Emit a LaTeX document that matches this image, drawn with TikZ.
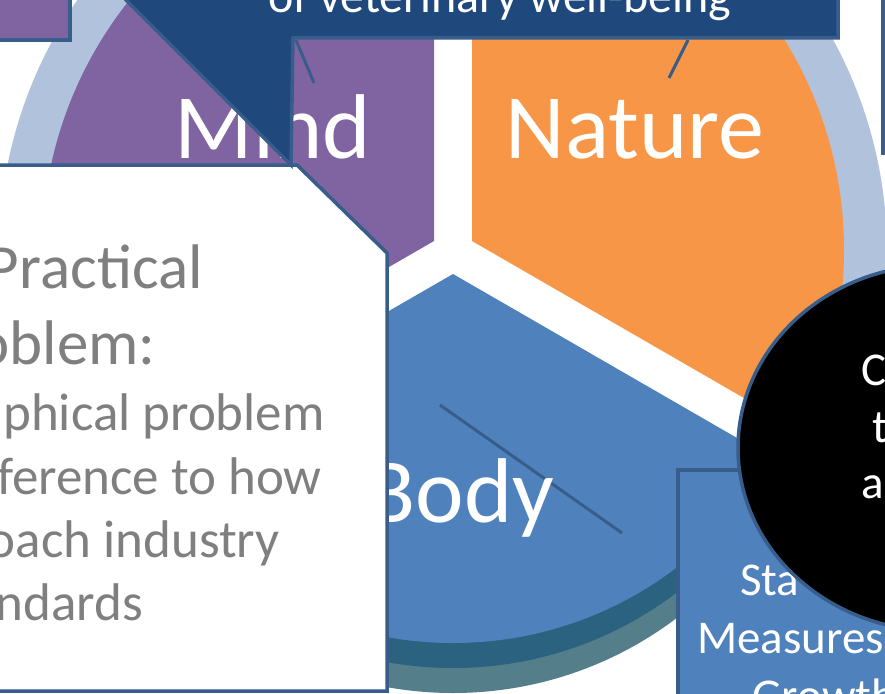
\documentclass[tikz,border=0pt]{standalone}
\usepackage{fontspec}
\setmainfont{Carlito}

\definecolor{mindpurple}{HTML}{8064A2}
\definecolor{natureorange}{HTML}{F79646}
\definecolor{bodyblue}{HTML}{4F81BD}
\definecolor{calloutblue}{HTML}{1F497D}
\definecolor{edgeblue}{HTML}{385D8A}
\definecolor{ringblue}{HTML}{B1C2DD}
\definecolor{sidedark}{HTML}{2B6280}
\definecolor{sidelight}{HTML}{547E89}
\definecolor{textgray}{HTML}{7F7F7F}

\tikzset{
	boxedge/.style={draw=edgeblue,line width=3.5pt,line join=miter},
	leader/.style={edgeblue,line width=3pt},
	biglabel/.style={text=white,inner sep=0pt,anchor=base,font=\fontsize{92}{92}\selectfont},
	titletext/.style={text=textgray,inner sep=0pt,anchor=base east,font=\fontsize{63}{63}\selectfont},
	smalltext/.style={text=textgray,inner sep=0pt,anchor=base east,font=\fontsize{53}{53}\selectfont},
	boxtext/.style={text=white,inner sep=0pt,anchor=base west,font=\fontsize{47}{47}\selectfont}
}

\begin{document}
\begin{tikzpicture}[x=1pt,y=-1pt]
	\useasboundingbox (0,0) rectangle (885,693);
	\clip (0,0) rectangle (885,693);
	\fill[white] (0,0) rectangle (885,693);

	\begin{scope}
		\clip (0,0) rectangle (885,470);
		\fill[ringblue,even odd rule] (443,252) circle (444) (443,252) circle (398);
	\end{scope}

	\begin{scope}[shift={(0,48)}]
		\clip (453,274) circle (371);
		\fill[sidelight] (453,274) -- +(30:700) -- +(90:700) -- +(150:700) -- cycle;
	\end{scope}
	\begin{scope}[shift={(0,25)}]
		\clip (453,274) circle (369);
		\fill[sidedark] (453,274) -- +(30:700) -- +(90:700) -- +(150:700) -- cycle;
	\end{scope}
	\begin{scope}
		\clip (453,274) circle (369);
		\fill[bodyblue] (453,274) -- +(30:700) -- +(90:700) -- +(150:700) -- cycle;
	\end{scope}
	\begin{scope}
		\clip (443,250) circle (401);
		\fill[mindpurple] (434,241) -- +(150:700) -- +(210:700) -- +(270:700) -- cycle;
		\fill[natureorange] (472,241) -- +(270:700) -- +(330:700) -- +(390:700) -- cycle;
	\end{scope}

	\node[biglabel] (mindlabel) at (273,158) {Mind};
	\node[biglabel] (naturelabel) at (635,158) {Nature};
	\coordinate (bodylinetop) at (440,405);
	\coordinate (bodylineend) at (622,533);
	\draw[leader] (bodylinetop) -- (bodylineend);
	\node[biglabel] (bodylabel) at (460,522) {Body};

	\draw[boxedge,fill=white] (-10,165) -- (297,165) -- (387,253) -- (387,691) -- (-10,691) -- cycle;
	\node[titletext] (practical) at (203,288) {Practical};
	\node[titletext] (problem) at (156,364) {oblem:};
	\node[smalltext] (philo) at (325,430) {phical problem};
	\node[smalltext] (reference) at (322,494) {ference to how};
	\node[smalltext] (approach) at (280,557) {oach industry};
	\node[smalltext] (standards) at (143,620) {ndards};

	\draw[boxedge,fill=calloutblue] (838,-12) -- (838,38) -- (293,38) -- (291,165) -- (114,-12) -- cycle;
	\node[text=white,inner sep=0pt,anchor=base,font=\fontsize{48}{48}\selectfont] (wellbeing) at (500,13) {of veterinary well-being};
	\coordinate (mindleadtop) at (296,40);
	\coordinate (mindleadend) at (314,83);
	\coordinate (natureleadtop) at (688,40);
	\coordinate (natureleadend) at (669,78);
	\draw[leader] (mindleadtop) -- (mindleadend);
	\draw[leader] (natureleadtop) -- (natureleadend);

	\draw[boxedge,fill=mindpurple] (-12,-12) rectangle (70,40);
	\draw[boxedge,fill=white] (883,-12) rectangle (905,153);

	\draw[boxedge,fill=bodyblue] (678,470) rectangle (905,710);
	\node[boxtext] (standard) at (740,595) {Sta};
	\node[boxtext] (measures) at (697,653) {Measures};
	\node[boxtext] (growth) at (752,711) {Growth};

	\draw[boxedge,fill=black] (938,448) ellipse [x radius=200,y radius=183];
	\node[boxtext] (letterc) at (861,385) {C};
	\node[boxtext] (lettert) at (872,442) {t};
	\node[boxtext] (lettera) at (861,498) {a};
\end{tikzpicture}
\end{document}
